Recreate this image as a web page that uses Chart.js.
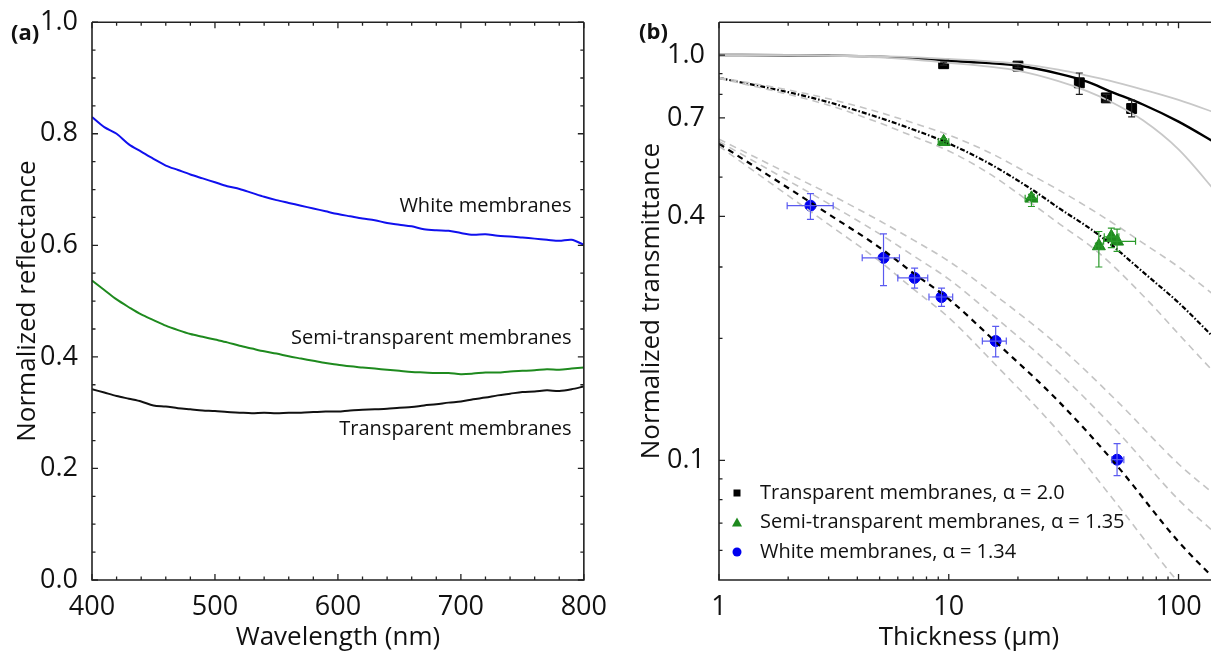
<!DOCTYPE html>
<html>
<head>
<meta charset="utf-8">
<script src="https://cdn.jsdelivr.net/npm/chart.js@4.4.0/dist/chart.umd.min.js"></script>
<style>
  html, body { margin: 0; padding: 0; background: #fff; overflow: hidden; width: 1211px; height: 652px; }
  #wrapA { position: absolute; left: 0; top: 0; width: 610px; height: 652px; }
  #wrapB { position: absolute; left: 610px; top: 0; width: 640px; height: 652px; }
</style>
</head>
<body>
<div id="wrapA"><canvas id="chartA" width="610" height="652"></canvas></div>
<div id="wrapB"><canvas id="chartB" width="640" height="652"></canvas></div>
<script>
// ---- panel (a): reflectance spectra ----
const wavelengths = [400,410,420,430,440,450,460,470,480,490,500,510,520,530,540,550,560,570,580,590,600,
  610,620,630,640,650,660,670,680,690,700,710,720,730,740,750,760,770,780,790,800];
const whiteRefl = [0.830,0.812,0.800,0.781,0.768,0.755,0.743,0.735,0.727,0.720,0.713,0.706,0.701,0.694,0.687,0.681,0.676,0.671,0.666,0.661,0.656,
  0.652,0.648,0.645,0.640,0.637,0.634,0.629,0.627,0.626,0.622,0.619,0.620,0.617,0.616,0.614,0.612,0.610,0.608,0.610,0.601];
const semiRefl = [0.537,0.520,0.503,0.489,0.476,0.466,0.456,0.448,0.441,0.436,0.431,0.426,0.420,0.415,0.410,0.406,0.401,0.397,0.393,0.389,0.386,
  0.383,0.381,0.379,0.377,0.375,0.373,0.372,0.371,0.371,0.369,0.370,0.372,0.372,0.374,0.375,0.376,0.378,0.377,0.379,0.381];
const transRefl = [0.342,0.336,0.330,0.325,0.320,0.313,0.311,0.308,0.306,0.304,0.303,0.301,0.300,0.299,0.300,0.299,0.300,0.300,0.301,0.302,0.302,
  0.304,0.305,0.306,0.307,0.309,0.310,0.313,0.315,0.318,0.320,0.324,0.327,0.331,0.334,0.337,0.338,0.340,0.339,0.342,0.347];
const reflTicks = [0.0, 0.2, 0.4, 0.6, 0.8, 1.0];
const wlTicks = [400, 500, 600, 700, 800];

// ---- panel (b): transmittance vs thickness ----
const transThick = [9.5, 20, 37, 48.5, 62.5];
const transT     = [0.952, 0.939, 0.854, 0.784, 0.738];
const transTLo   = [0.944, 0.932, 0.800, 0.770, 0.704];
const transTHi   = [0.960, 0.946, 0.903, 0.800, 0.774];

const semiThick = [9.5, 22.9, 45, 51, 54];
const semiT     = [0.611, 0.443, 0.338, 0.356, 0.347];
const semiTLo   = [0.600, 0.423, 0.300, 0.335, 0.328];
const semiTHi   = [0.622, 0.453, 0.367, 0.374, 0.372];
const semiXLo   = [9.0, 21.5, 43.5, 47.5, 47.2];
const semiXHi   = [10.0, 24.3, 46.5, 55, 65];

const whiteThick = [2.5, 5.2, 7.1, 9.3, 16, 54];
const whiteT     = [0.425, 0.316, 0.282, 0.253, 0.197, 0.1004];
const whiteTLo   = [0.393, 0.270, 0.266, 0.240, 0.180, 0.0917];
const whiteTHi   = [0.455, 0.362, 0.298, 0.266, 0.214, 0.110];
const whiteXLo   = [1.98, 4.2, 6.0, 8.2, 14.0, 51.2];
const whiteXHi   = [3.14, 6.1, 8.1, 10.4, 17.8, 57.8];

// fitted curves
const fitTransX = [1, 2, 3, 5, 7, 10, 15, 20, 30, 40, 50, 70, 100, 150];
const fitTrans  = [1.0, 0.999, 0.997, 0.991, 0.982, 0.968, 0.955, 0.942, 0.900, 0.860, 0.815, 0.755, 0.685, 0.600];
const fitTransUp = [1.0, 0.999, 0.998, 0.994, 0.988, 0.978, 0.965, 0.952, 0.920, 0.890, 0.865, 0.822, 0.775, 0.715];
const fitTransLo = [1.0, 0.999, 0.996, 0.987, 0.975, 0.957, 0.936, 0.915, 0.862, 0.815, 0.770, 0.690, 0.585, 0.450];

const fitSemiX  = [1, 2, 3, 5, 7, 10, 15, 23, 30, 45, 75, 100, 150];
const fitSemi   = [0.878, 0.810, 0.765, 0.700, 0.655, 0.605, 0.540, 0.466, 0.420, 0.360, 0.282, 0.245, 0.195];
const fitSemiUp = [0.880, 0.820, 0.780, 0.722, 0.680, 0.635, 0.575, 0.505, 0.465, 0.405, 0.335, 0.300, 0.250];
const fitSemiLo = [0.876, 0.800, 0.752, 0.680, 0.630, 0.580, 0.510, 0.430, 0.385, 0.325, 0.245, 0.205, 0.160];

const fitWhiteX  = [1, 2, 3, 5, 7, 10, 16, 30, 54, 100, 145];
const fitWhite   = [0.604, 0.470, 0.405, 0.335, 0.290, 0.250, 0.196, 0.140, 0.097, 0.063, 0.0507];
const fitWhiteU1 = [0.612, 0.490, 0.430, 0.362, 0.320, 0.280, 0.225, 0.165, 0.118, 0.080, 0.066];
const fitWhiteU2 = [0.620, 0.510, 0.455, 0.390, 0.350, 0.310, 0.255, 0.192, 0.140, 0.098, 0.082];
const fitWhiteL1 = [0.596, 0.450, 0.382, 0.310, 0.265, 0.225, 0.172, 0.118, 0.078, 0.050, 0.040];

const thickTicks = [1, 10, 100];
const transTicks = [0.1, 0.4, 0.7, 1.0];

const FONT = "'Open Sans', 'DejaVu Sans', sans-serif";

function xy(xs, ys) { return xs.map((x, i) => ({ x: x, y: ys[i] })); }

// box frame with inward major/minor ticks
function frameTicks(opts) {
  return {
    id: 'frameTicks',
    afterDraw(chart) {
      const ctx = chart.ctx, a = chart.chartArea;
      const sx = chart.scales.x, sy = chart.scales.y;
      ctx.save();
      ctx.strokeStyle = '#222';
      ctx.lineWidth = 1.6;
      ctx.beginPath();
      ctx.moveTo(a.left, a.top); ctx.lineTo(a.right, a.top);
      ctx.moveTo(a.left, a.top); ctx.lineTo(a.left, a.bottom); ctx.lineTo(a.right, a.bottom);
      ctx.lineTo(a.right, a.top);
      ctx.stroke();
      ctx.lineWidth = 1.3;
      ctx.beginPath();
      opts.xTicks.forEach(t => {
        const px = sx.getPixelForValue(t.v);
        if (px < a.left - 0.5 || px > a.right + 0.5) return;
        ctx.moveTo(px, a.bottom); ctx.lineTo(px, a.bottom - t.len);
        ctx.moveTo(px, a.top); ctx.lineTo(px, a.top + t.len);
      });
      opts.yTicks.forEach(t => {
        const py = sy.getPixelForValue(t.v);
        if (py < a.top - 0.5 || py > a.bottom + 0.5) return;
        ctx.moveTo(a.left, py); ctx.lineTo(a.left + t.len, py);
        ctx.moveTo(a.right, py); ctx.lineTo(a.right - t.len, py);
      });
      ctx.stroke();
      ctx.restore();
    }
  };
}

function panelLabel(text, x, y) {
  return {
    id: 'panelLabel',
    afterDraw(chart) {
      const ctx = chart.ctx;
      ctx.save();
      ctx.font = "bold 22px " + FONT;
      ctx.fillStyle = '#111';
      ctx.textAlign = 'left';
      ctx.textBaseline = 'middle';
      ctx.fillText(text, x, y);
      ctx.restore();
    }
  };
}

// ---------- chart A ----------
const aXTicks = [], aYTicks = [];
for (let w = 400; w <= 800; w += 20) aXTicks.push({ v: w, len: w % 100 === 0 ? 6 : 3.5 });
for (let r = 0; r <= 100; r += 5) aYTicks.push({ v: r / 100, len: r % 20 === 0 ? 6 : 3.5 });

const curveNotes = {
  id: 'curveNotes',
  afterDatasetsDraw(chart) {
    const ctx = chart.ctx, sx = chart.scales.x, sy = chart.scales.y;
    ctx.save();
    ctx.font = "20px " + FONT;
    ctx.fillStyle = '#111';
    ctx.textAlign = 'right';
    ctx.textBaseline = 'middle';
    chart.data.datasets.forEach(ds => {
      ctx.fillText(ds.label, sx.getPixelForValue(ds.noteX), sy.getPixelForValue(ds.noteY));
    });
    ctx.restore();
  }
};

new Chart(document.getElementById('chartA'), {
  type: 'line',
  data: {
    datasets: [
      { label: 'White membranes', data: xy(wavelengths, whiteRefl), borderColor: '#1010ee', noteX: 790, noteY: 0.670 },
      { label: 'Semi-transparent membranes', data: xy(wavelengths, semiRefl), borderColor: '#1e8a1e', noteX: 790, noteY: 0.434 },
      { label: 'Transparent membranes', data: xy(wavelengths, transRefl), borderColor: '#111111', noteX: 790, noteY: 0.271 }
    ]
  },
  options: {
    responsive: false,
    animation: false,
    layout: { padding: { left: 0, right: 16, top: 20, bottom: 0 } },
    elements: { point: { radius: 0 }, line: { borderWidth: 2, tension: 0.3 } },
    plugins: { legend: { display: false }, tooltip: { enabled: false } },
    scales: {
      x: {
        type: 'linear', min: 400, max: 800,
        afterFit: s => { s.height = 72; },
        afterBuildTicks: s => { s.ticks = wlTicks.map(v => ({ value: v })); },
        grid: { display: false }, border: { display: false },
        ticks: { font: { family: FONT, size: 27 }, color: '#111', padding: 3, maxRotation: 0 },
        title: { display: true, text: 'Wavelength (nm)', font: { family: FONT, size: 26 }, color: '#111', padding: { top: 0, bottom: -1 } }
      },
      y: {
        type: 'linear', min: 0, max: 1.0,
        afterFit: s => { s.width = 92; },
        afterBuildTicks: s => { s.ticks = reflTicks.map(v => ({ value: v })); },
        grid: { display: false }, border: { display: false },
        ticks: { font: { family: FONT, size: 27 }, color: '#111', padding: 6, callback: v => v.toFixed(1) },
        title: { display: true, text: 'Normalized reflectance', font: { family: FONT, size: 26 }, color: '#111', padding: { top: 12, bottom: 0 } }
      }
    }
  },
  plugins: [frameTicks({ xTicks: aXTicks, yTicks: aYTicks }), curveNotes, panelLabel('(a)', 11, 34)]
});

// ---------- chart B ----------
const bXTicks = [], bYTicks = [];
[1, 10, 100].forEach(d => { for (let k = 1; k <= 9; k++) bXTicks.push({ v: d * k, len: k === 1 ? 6 : 3.5 }); });
[0.01, 0.1].forEach(d => { for (let k = 1; k <= 9; k++) bYTicks.push({ v: d * k, len: (d === 0.1 && (k === 1 || k === 4 || k === 7)) ? 6 : 3.5 }); });
bYTicks.push({ v: 1.0, len: 6 });

const errorBars = {
  id: 'errorBars',
  afterDatasetsDraw(chart) {
    const ctx = chart.ctx, sx = chart.scales.x, sy = chart.scales.y;
    ctx.save();
    chart.data.datasets.forEach(ds => {
      if (!ds.err) return;
      ctx.strokeStyle = ds.err.color;
      ctx.lineWidth = 1.2;
      ds.data.forEach((p, i) => {
        const px = sx.getPixelForValue(p.x), py = sy.getPixelForValue(p.y);
        const cap = 3.5;
        ctx.beginPath();
        if (ds.err.yLo) {
          const y1 = sy.getPixelForValue(ds.err.yLo[i]), y2 = sy.getPixelForValue(ds.err.yHi[i]);
          ctx.moveTo(px, y1); ctx.lineTo(px, y2);
          ctx.moveTo(px - cap, y1); ctx.lineTo(px + cap, y1);
          ctx.moveTo(px - cap, y2); ctx.lineTo(px + cap, y2);
        }
        if (ds.err.xLo) {
          const x1 = sx.getPixelForValue(ds.err.xLo[i]), x2 = sx.getPixelForValue(ds.err.xHi[i]);
          ctx.moveTo(x1, py); ctx.lineTo(x2, py);
          ctx.moveTo(x1, py - cap); ctx.lineTo(x1, py + cap);
          ctx.moveTo(x2, py - cap); ctx.lineTo(x2, py + cap);
        }
        ctx.stroke();
      });
    });
    ctx.restore();
  }
};

const legendB = {
  id: 'legendB',
  afterDraw(chart) {
    const ctx = chart.ctx;
    const items = chart.data.datasets.filter(ds => ds.inLegend);
    ctx.save();
    ctx.font = "20px " + FONT;
    ctx.textAlign = 'left';
    ctx.textBaseline = 'middle';
    items.forEach((ds, i) => {
      const x = 127, y = 493 + i * 29.5;
      ctx.fillStyle = ds.backgroundColor;
      ctx.beginPath();
      if (ds.pointStyle === 'rect') ctx.rect(x - 3.5, y - 3.5, 7, 7);
      else if (ds.pointStyle === 'triangle') { ctx.moveTo(x, y - 5); ctx.lineTo(x + 5, y + 4); ctx.lineTo(x - 5, y + 4); ctx.closePath(); }
      else ctx.arc(x, y, 4.5, 0, Math.PI * 2);
      ctx.fill();
      ctx.fillStyle = '#111';
      ctx.fillText(ds.label, x + 23, y);
    });
    ctx.restore();
  }
};

const grayDash = { borderColor: '#c4c4c4', borderWidth: 1.6, borderDash: [7, 5], pointRadius: 0, fill: false, cubicInterpolationMode: 'monotone' };
const graySolid = { borderColor: '#c8c8c8', borderWidth: 1.8, pointRadius: 0, fill: false, cubicInterpolationMode: 'monotone' };

new Chart(document.getElementById('chartB'), {
  type: 'scatter',
  data: {
    datasets: [
      Object.assign({ type: 'line', label: 'tu', data: xy(fitTransX, fitTransUp) }, graySolid),
      Object.assign({ type: 'line', label: 'tl', data: xy(fitTransX, fitTransLo) }, graySolid),
      Object.assign({ type: 'line', label: 'su', data: xy(fitSemiX, fitSemiUp) }, grayDash),
      Object.assign({ type: 'line', label: 'sl', data: xy(fitSemiX, fitSemiLo) }, grayDash),
      Object.assign({ type: 'line', label: 'wu1', data: xy(fitWhiteX, fitWhiteU1) }, grayDash),
      Object.assign({ type: 'line', label: 'wu2', data: xy(fitWhiteX, fitWhiteU2) }, grayDash),
      Object.assign({ type: 'line', label: 'wl1', data: xy(fitWhiteX, fitWhiteL1) }, grayDash),
      { type: 'line', label: 'fit t', data: xy(fitTransX, fitTrans), borderColor: '#000', borderWidth: 2.4, pointRadius: 0, cubicInterpolationMode: 'monotone' },
      { type: 'line', label: 'fit s', data: xy(fitSemiX, fitSemi), borderColor: '#000', borderWidth: 2.2, borderDash: [5, 2, 1.5, 2], pointRadius: 0, cubicInterpolationMode: 'monotone' },
      { type: 'line', label: 'fit w', data: xy(fitWhiteX, fitWhite), borderColor: '#000', borderWidth: 2.2, borderDash: [6, 5], pointRadius: 0, cubicInterpolationMode: 'monotone' },
      { label: 'Transparent membranes, \u03b1 = 2.0', inLegend: true, data: xy(transThick, transT), pointStyle: 'rect', pointRadius: 7,
        backgroundColor: '#000', borderColor: '#000', err: { color: '#222', yLo: transTLo, yHi: transTHi } },
      { label: 'Semi-transparent membranes, \u03b1 = 1.35', inLegend: true, data: xy(semiThick, semiT), pointStyle: 'triangle', pointRadius: 7.5,
        backgroundColor: '#1e8a1e', borderColor: '#1e8a1e', err: { color: '#2a9a2a', yLo: semiTLo, yHi: semiTHi, xLo: semiXLo, xHi: semiXHi } },
      { label: 'White membranes, \u03b1 = 1.34', inLegend: true, data: xy(whiteThick, whiteT), pointStyle: 'circle', pointRadius: 5.5,
        backgroundColor: '#0000f0', borderColor: '#0000f0', err: { color: '#5a5af0', yLo: whiteTLo, yHi: whiteTHi, xLo: whiteXLo, xHi: whiteXHi } }
    ]
  },
  options: {
    responsive: false,
    animation: false,
    layout: { padding: { left: 0, right: 31, top: 20, bottom: 0 } },
    plugins: { legend: { display: false }, tooltip: { enabled: false } },
    scales: {
      x: {
        type: 'logarithmic', min: 1, max: 150,
        afterFit: s => { s.height = 72; },
        afterBuildTicks: s => { s.ticks = thickTicks.map(v => ({ value: v })); },
        grid: { display: false }, border: { display: false },
        ticks: { font: { family: FONT, size: 27 }, color: '#111', padding: 3, maxRotation: 0, callback: v => String(v) },
        title: { display: true, text: 'Thickness (\u00b5m)', font: { family: FONT, size: 26 }, color: '#111', padding: { top: 0, bottom: -1 } }
      },
      y: {
        type: 'logarithmic', min: 0.0507, max: 1.205,
        afterFit: s => { s.width = 109; },
        afterBuildTicks: s => { s.ticks = transTicks.map(v => ({ value: v })); },
        grid: { display: false }, border: { display: false },
        ticks: { font: { family: FONT, size: 27 }, color: '#111', padding: 6, callback: v => Number(v).toFixed(1) },
        title: { display: true, text: 'Normalized transmittance', font: { family: FONT, size: 26 }, color: '#111', padding: { top: 26, bottom: 0 } }
      }
    }
  },
  plugins: [frameTicks({ xTicks: bXTicks, yTicks: bYTicks }), errorBars, legendB, panelLabel('(b)', 29, 33)]
});
</script>
</body>
</html>
